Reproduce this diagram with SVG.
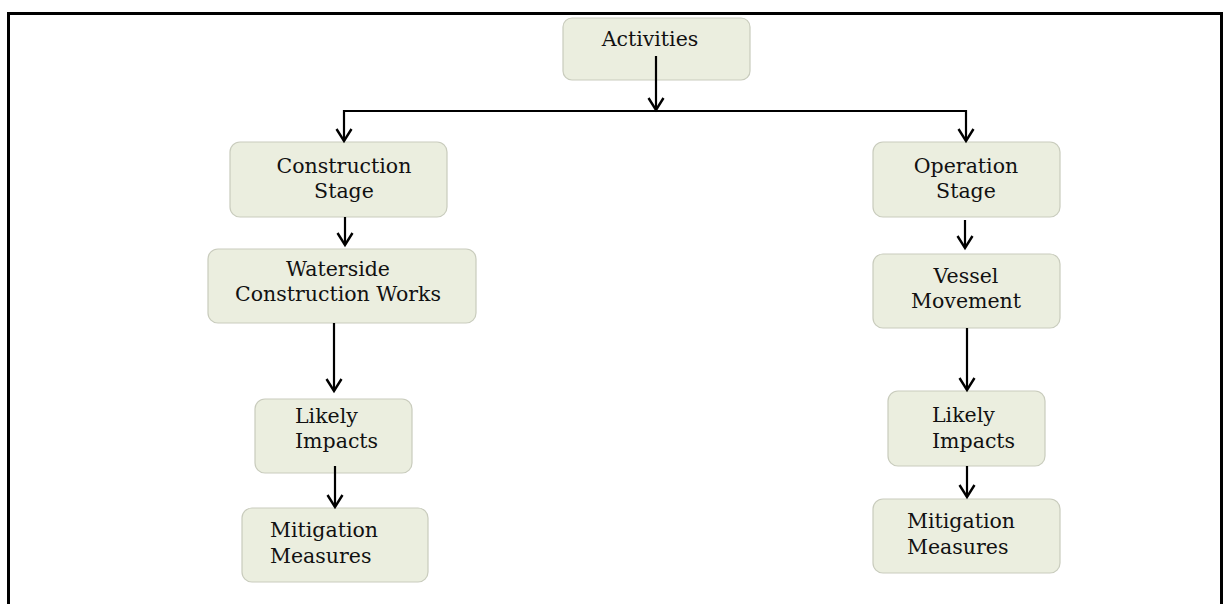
<svg xmlns="http://www.w3.org/2000/svg" width="1228" height="604" viewBox="0 0 1228 604">
<style>
.box{fill:#ebeedf;stroke:#c9ccbd;stroke-width:1.2}
.t{font-family:"DejaVu Serif","Liberation Serif",serif;font-size:20.5px;fill:#111}
.c{text-anchor:middle}
.ln{stroke:#000;stroke-width:2.2;fill:none}
</style>
<defs>
<marker id="ah" markerWidth="18" markerHeight="18" refX="14" refY="9" orient="auto" markerUnits="userSpaceOnUse" viewBox="0 0 18 18">
<path d="M2,1.5 L14,9 L2,16.5" fill="none" stroke="#000" stroke-width="2.4"/>
</marker>
</defs>
<rect width="1228" height="604" fill="#fff"/>
<path d="M8.5,604 V13.5 H1221.5 V604" fill="none" stroke="#000" stroke-width="3"/>

<g id="activities"><rect class="box" x="563" y="18" width="187" height="62" rx="9"/><text class="t c" x="650" y="46">Activities</text></g>
<g id="construction-stage"><rect class="box" x="230" y="142" width="217" height="75" rx="10"/><text class="t c" x="344" y="173">Construction</text><text class="t c" x="344" y="198">Stage</text></g>
<g id="waterside"><rect class="box" x="208" y="249" width="268" height="74" rx="10"/><text class="t c" x="338" y="276">Waterside</text><text class="t c" x="338" y="301">Construction Works</text></g>
<g id="likely-left"><rect class="box" x="255" y="399" width="157" height="74" rx="10"/><text class="t" x="295" y="423">Likely</text><text class="t" x="295" y="448">Impacts</text></g>
<g id="mitigation-left"><rect class="box" x="242" y="508" width="186" height="74" rx="10"/><text class="t" x="270" y="537">Mitigation</text><text class="t" x="270" y="563">Measures</text></g>
<g id="operation-stage"><rect class="box" x="873" y="142" width="187" height="75" rx="10"/><text class="t c" x="966" y="173">Operation</text><text class="t c" x="966" y="198">Stage</text></g>
<g id="vessel"><rect class="box" x="873" y="254" width="187" height="74" rx="10"/><text class="t c" x="966" y="283">Vessel</text><text class="t c" x="966" y="308">Movement</text></g>
<g id="likely-right"><rect class="box" x="888" y="391" width="157" height="75" rx="10"/><text class="t" x="932" y="422">Likely</text><text class="t" x="932" y="448">Impacts</text></g>
<g id="mitigation-right"><rect class="box" x="873" y="499" width="187" height="74" rx="10"/><text class="t" x="907" y="528">Mitigation</text><text class="t" x="907" y="554">Measures</text></g>

<g id="connectors">
<line class="ln" x1="656" y1="56" x2="656" y2="110" marker-end="url(#ah)"/>
<line class="ln" x1="344" y1="111" x2="966" y2="111"/>
<line class="ln" x1="344" y1="110" x2="344" y2="141" marker-end="url(#ah)"/>
<line class="ln" x1="966" y1="110" x2="966" y2="141" marker-end="url(#ah)"/>
<line class="ln" x1="345" y1="217" x2="345" y2="245" marker-end="url(#ah)"/>
<line class="ln" x1="965" y1="220" x2="965" y2="248" marker-end="url(#ah)"/>
<line class="ln" x1="334" y1="323" x2="334" y2="391" marker-end="url(#ah)"/>
<line class="ln" x1="967" y1="328" x2="967" y2="390" marker-end="url(#ah)"/>
<line class="ln" x1="335" y1="466" x2="335" y2="507" marker-end="url(#ah)"/>
<line class="ln" x1="967" y1="466" x2="967" y2="497" marker-end="url(#ah)"/>
</g>
</svg>
